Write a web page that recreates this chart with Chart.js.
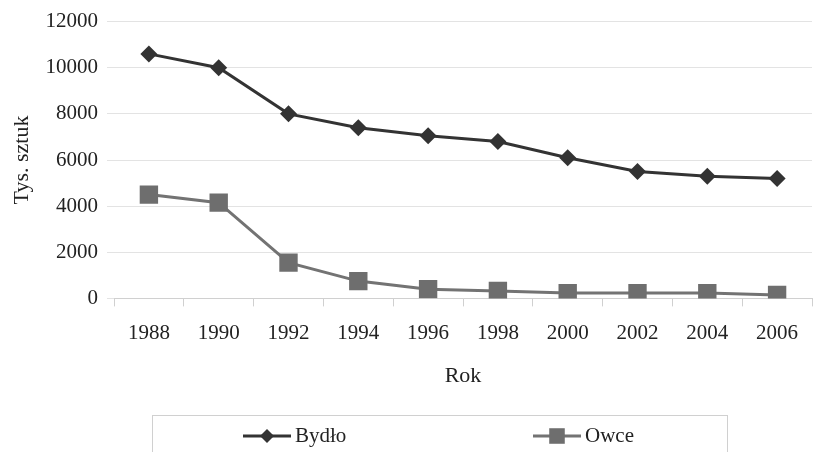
<!DOCTYPE html>
<html>
<head>
<meta charset="utf-8">
<script src="https://cdn.jsdelivr.net/npm/chart.js@4/dist/chart.umd.min.js"></script>
<style>
  html, body { margin: 0; padding: 0; background: #fff; overflow: hidden; }
  #wrap { position: relative; width: 825px; height: 452px; }
</style>
</head>
<body>
<div id="wrap"><canvas id="c" width="825" height="452"></canvas></div>
<script>
// Pogłowie bydła i owiec (tys. sztuk)
const lata = ['1988', '1990', '1992', '1994', '1996', '1998', '2000', '2002', '2004', '2006'];
const bydlo = [10600, 10000, 8000, 7400, 7050, 6800, 6100, 5500, 5300, 5200];
const owce = [4500, 4150, 1550, 750, 400, 320, 230, 230, 230, 150];
const yTicks = [0, 2000, 4000, 6000, 8000, 10000, 12000];

const FONT = "'Liberation Serif', 'Times New Roman', serif";

// Legenda w ramce pod wykresem
const boxLegend = {
  id: 'boxLegend',
  afterDraw(chart) {
    const ctx = chart.ctx;
    ctx.save();
    ctx.strokeStyle = '#d0d0d0';
    ctx.lineWidth = 1;
    ctx.strokeRect(152.5, 415.5, 575, 60);
    const cy = 436;
    const items = [
      { x: 243, label: 'Bydło', ds: chart.data.datasets[0] },
      { x: 533, label: 'Owce', ds: chart.data.datasets[1] }
    ];
    items.forEach(it => {
      ctx.strokeStyle = it.ds.borderColor;
      ctx.lineWidth = 3;
      ctx.beginPath();
      ctx.moveTo(it.x, cy);
      ctx.lineTo(it.x + 48, cy);
      ctx.stroke();
      ctx.fillStyle = it.ds.pointBackgroundColor;
      Chart.helpers.drawPoint(ctx, {
        pointStyle: it.ds.pointStyle,
        radius: it.ds.pointStyle === 'rect' ? 11 : 7,
        rotation: 0,
        borderWidth: 0
      }, it.x + 24, cy);
      ctx.fillStyle = '#222';
      ctx.font = '21px ' + FONT;
      ctx.textBaseline = 'middle';
      ctx.textAlign = 'left';
      ctx.fillText(it.label, it.x + 52, cy);
    });
    ctx.restore();
  }
};

new Chart(document.getElementById('c'), {
  type: 'line',
  data: {
    labels: lata,
    datasets: [
      {
        label: 'Bydło',
        data: bydlo,
        borderColor: '#333333',
        backgroundColor: '#333333',
        pointBackgroundColor: '#333333',
        pointBorderColor: '#333333',
        borderWidth: 3,
        pointStyle: 'rectRot',
        pointRadius: 8.5,
        pointBorderWidth: 0,
        tension: 0
      },
      {
        label: 'Owce',
        data: owce,
        borderColor: '#737373',
        backgroundColor: '#6e6e6e',
        pointBackgroundColor: '#6e6e6e',
        pointBorderColor: '#6e6e6e',
        borderWidth: 3,
        pointStyle: 'rect',
        pointRadius: 13,
        pointBorderWidth: 0,
        tension: 0
      }
    ]
  },
  options: {
    responsive: false,
    animation: false,
    layout: { padding: { top: 11, right: 1, bottom: 63, left: 0 } },
    plugins: {
      legend: { display: false },
      tooltip: { enabled: false }
    },
    scales: {
      x: {
        offset: true,
        grid: {
          offset: true,
          drawOnChartArea: false,
          drawTicks: true,
          tickLength: 8,
          color: '#d0d0d0'
        },
        border: { display: true, color: '#d0d0d0' },
        ticks: {
          color: '#222',
          font: { family: FONT, size: 21 },
          padding: 14,
          maxRotation: 0
        },
        title: {
          display: true,
          text: 'Rok',
          color: '#222',
          font: { family: FONT, size: 22 },
          padding: { top: 3, bottom: 0 }
        }
      },
      y: {
        min: 0,
        max: 12000,
        afterBuildTicks(scale) { scale.ticks = yTicks.map(v => ({ value: v })); },
        afterFit(scale) { scale.width = 114; },
        grid: {
          color: '#e3e3e3',
          tickLength: 7,
          drawTicks: true
        },
        border: { display: false },
        ticks: {
          color: '#222',
          font: { family: FONT, size: 21 },
          padding: 9,
          callback: v => String(v)
        },
        title: {
          display: true,
          text: 'Tys. sztuk',
          color: '#222',
          font: { family: FONT, size: 22 },
          padding: { top: 9, bottom: 9 }
        }
      }
    }
  },
  plugins: [boxLegend]
});
</script>
</body>
</html>
